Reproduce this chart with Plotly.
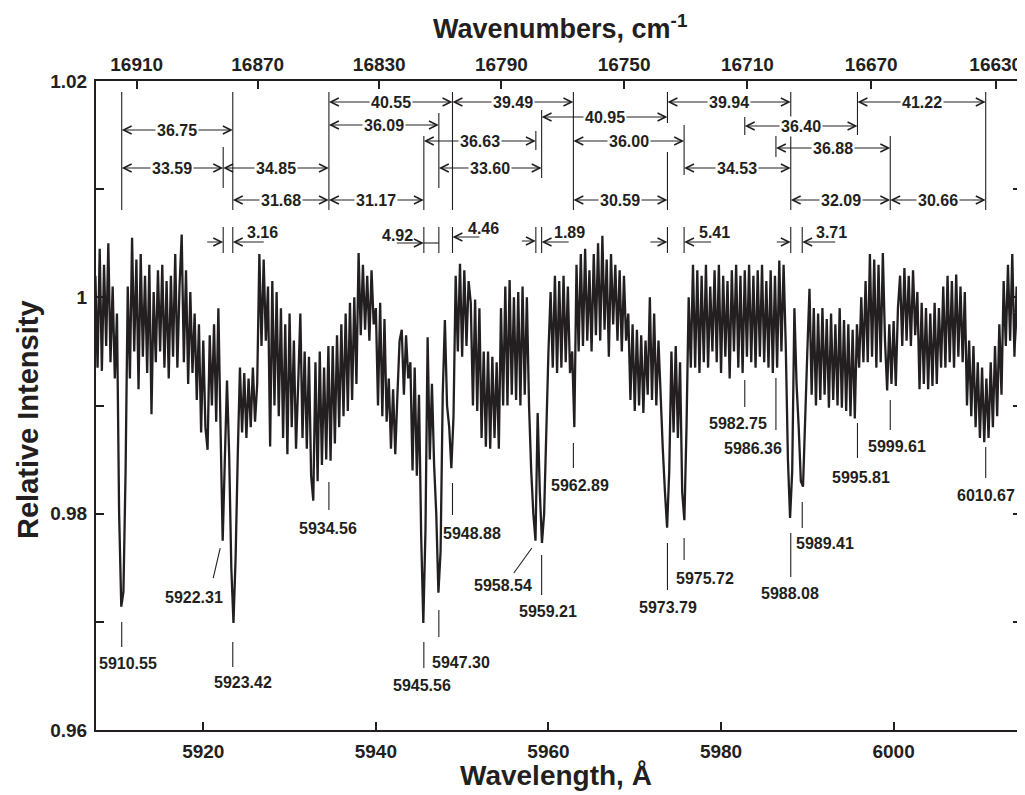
import plotly.graph_objects as go

# ---------------- data ----------------
wl_start = 5907.5          # Å, first sample
wl_step = 0.25             # Å, sampling step
intensity = [
    1.0020, 0.9935,
    1.0045, 0.9932, 1.0030, 0.9955,
    1.0050, 0.9940, 1.0010, 0.9925,
    0.9985, 0.9800, 0.9714, 0.9728,
    0.9840, 1.0010, 0.9925, 1.0055,
    0.9950, 1.0035, 0.9915, 1.0040,
    0.9945, 1.0020, 0.9930, 1.0030,
    0.9892, 1.0005, 0.9940, 1.0025,
    0.9950, 1.0030, 0.9935, 1.0015,
    0.9925, 1.0020, 0.9945, 1.0040,
    0.9935, 1.0010, 1.0058, 0.9940,
    1.0025, 0.9920, 1.0005, 0.9930,
    0.9985, 0.9905, 0.9975, 0.9875,
    0.9960, 0.9880, 0.9859, 0.9965,
    0.9900, 0.9975, 0.9885, 0.9990,
    0.9880, 0.9775, 0.9850, 0.9923,
    0.9855, 0.9750, 0.9699, 0.9760,
    0.9855, 0.9935, 0.9875, 0.9930,
    0.9870, 0.9925, 0.9880, 0.9935,
    0.9885, 0.9920, 1.0040, 0.9955,
    1.0035, 0.9960, 1.0010, 0.9862,
    1.0015, 0.9900, 1.0005, 0.9890,
    0.9990, 0.9870, 0.9975, 0.9855,
    0.9985, 0.9880, 0.9960, 0.9860,
    0.9920, 0.9985, 0.9870, 0.9950,
    0.9860, 0.9945, 0.9835, 0.9812,
    0.9940, 0.9830, 0.9950, 0.9845,
    0.9935, 0.9850, 0.9955, 0.9849,
    0.9955, 0.9865, 0.9965, 0.9880,
    0.9975, 0.9890, 0.9985, 0.9895,
    0.9995, 0.9905, 1.0000, 0.9920,
    1.0041, 0.9965, 1.0030, 0.9970,
    1.0020, 0.9960, 1.0025, 0.9975,
    0.9990, 0.9900, 0.9995, 0.9890,
    0.9980, 0.9885, 0.9925, 0.9860,
    0.9915, 0.9855, 0.9910, 0.9960,
    0.9970, 0.9910, 0.9965, 0.9925,
    0.9940, 0.9840, 0.9935, 0.9835,
    0.9910, 0.9780, 0.9699, 0.9785,
    0.9963, 0.9850, 0.9920, 0.9845,
    0.9800, 0.9727, 0.9765, 0.9910,
    0.9979, 0.9900, 0.9880, 0.9842,
    0.9890, 1.0020, 0.9950, 1.0031,
    0.9945, 1.0025, 0.9955, 1.0015,
    0.9995, 0.9900, 0.9998, 0.9895,
    0.9990, 0.9870, 0.9950, 0.9862,
    0.9950, 0.9860, 0.9945, 0.9870,
    0.9940, 0.9860, 0.9990, 0.9900,
    1.0010, 0.9900, 1.0016, 0.9910,
    1.0000, 0.9905, 1.0005, 0.9900,
    1.0010, 0.9910, 1.0000, 0.9900,
    0.9840, 0.9800, 0.9775, 0.9893,
    0.9820, 0.9773, 0.9800, 0.9886,
    0.9950, 1.0005, 0.9935, 1.0020,
    0.9930, 1.0015, 0.9935, 1.0020,
    0.9940, 1.0010, 0.9930, 0.9950,
    0.9880, 1.0030, 0.9950, 1.0040,
    0.9955, 1.0045, 0.9960, 1.0025,
    0.9950, 1.0040, 0.9965, 1.0050,
    0.9960, 1.0057, 0.9970, 1.0035,
    0.9945, 1.0040, 0.9975, 1.0030,
    0.9960, 1.0025, 0.9950, 1.0020,
    0.9960, 0.9985, 0.9905, 0.9975,
    0.9895, 0.9970, 0.9900, 0.9965,
    0.9893, 0.9960, 0.9910, 1.0000,
    0.9905, 0.9985, 0.9900, 0.9960,
    0.9900, 0.9860, 0.9820, 0.9787,
    0.9840, 0.9950, 0.9875, 0.9955,
    0.9870, 0.9940, 0.9820, 0.9794,
    0.9880, 1.0000, 0.9935, 1.0030,
    0.9935, 1.0025, 0.9930, 1.0020,
    0.9940, 1.0030, 0.9935, 1.0010,
    0.9950, 1.0025, 0.9940, 1.0030,
    0.9930, 1.0020, 0.9945, 1.0015,
    0.9925, 1.0025, 0.9950, 1.0030,
    0.9935, 1.0020, 0.9930, 1.0025,
    0.9945, 1.0030, 0.9940, 1.0020,
    0.9935, 1.0025, 0.9945, 1.0030,
    0.9940, 1.0015, 0.9935, 1.0025,
    0.9930, 1.0020, 0.9935, 1.0034,
    0.9950, 1.0030, 0.9955, 0.9850,
    0.9796, 0.9840, 0.9990, 0.9920,
    0.9880, 0.9830, 0.9825, 0.9900,
    0.9950, 1.0008, 0.9910, 0.9990,
    0.9900, 0.9985, 0.9905, 0.9990,
    0.9910, 0.9980, 0.9898, 0.9985,
    0.9905, 0.9975, 0.9900, 0.9990,
    0.9898, 0.9979, 0.9895, 0.9975,
    0.9890, 0.9970, 0.9888, 0.9975,
    0.9935, 1.0000, 0.9940, 1.0015,
    0.9940, 1.0040, 0.9945, 1.0035,
    0.9935, 1.0030, 0.9940, 1.0041,
    0.9960, 0.9914, 0.9975, 0.9920,
    0.9978, 0.9918, 0.9990, 1.0020,
    0.9955, 1.0027, 0.9960, 1.0020,
    0.9955, 1.0025, 0.9965, 1.0005,
    0.9915, 0.9995, 0.9920, 0.9990,
    0.9915, 0.9985, 0.9918, 0.9995,
    0.9920, 0.9990, 0.9935, 1.0010,
    0.9935, 1.0020, 0.9940, 1.0015,
    0.9935, 1.0021, 0.9945, 1.0010,
    0.9940, 1.0005, 0.9900, 0.9960,
    0.9890, 0.9955, 0.9880, 0.9940,
    0.9870, 0.9935, 0.9866, 0.9925,
    0.9870, 0.9940, 0.9880, 0.9955,
    0.9890, 0.9975, 0.9910, 1.0015,
    0.9955, 1.0030, 0.9960, 1.0040,
    0.9945, 1.0010, 0.9935, 0.9990,
]
wavelength = [wl_start + i * wl_step for i in range(len(intensity))]

peak_wavelengths = [5910.55, 5922.31, 5923.42, 5934.56, 5945.56, 5947.30, 5948.88,
                    5958.54, 5959.21, 5962.89, 5973.79, 5975.72, 5982.75, 5986.36,
                    5988.08, 5989.41, 5995.81, 5999.61, 6010.67]
peak_labels = ["5910.55", "5922.31", "5923.42", "5934.56", "5945.56", "5947.30", "5948.88",
               "5958.54", "5959.21", "5962.89", "5973.79", "5975.72", "5982.75", "5986.36",
               "5988.08", "5989.41", "5995.81", "5999.61", "6010.67"]

# wavenumber spacings (cm-1) between pairs of bands
spacing_from = [5934.56, 5948.88, 5973.79, 5995.81, 5959.21, 5934.56, 5982.75, 5910.55,
                5945.56, 5962.89, 5986.36, 5910.55, 5922.31, 5947.30, 5975.72,
                5923.42, 5934.56, 5962.89, 5988.08, 5999.61]
spacing_to = [5948.88, 5962.89, 5988.08, 6010.67, 5973.79, 5947.30, 5995.81, 5923.42,
              5958.54, 5975.72, 5999.61, 5922.31, 5934.56, 5959.21, 5988.08,
              5934.56, 5945.56, 5973.79, 5999.61, 6010.67]
spacing_values = ["40.55", "39.49", "39.94", "41.22", "40.95", "36.09", "36.40", "36.75",
                  "36.63", "36.00", "36.88", "33.59", "34.85", "33.60", "34.53",
                  "31.68", "31.17", "30.59", "32.09", "30.66"]

# close doublets
doublet_left = [5922.31, 5945.56, 5958.54, 5973.79, 5988.08]
doublet_right = [5923.42, 5947.30, 5959.21, 5975.72, 5989.41]
doublet_values = ["3.16", "4.92", "1.89", "5.41", "3.71"]
extra_doublet = (5947.30, 5948.88, "4.46")

wavelength_ticks = [5920, 5940, 5960, 5980, 6000]
wavenumber_ticks = [16910, 16870, 16830, 16790, 16750, 16710, 16670, 16630]
intensity_ticks = [0.96, 0.97, 0.98, 0.99, 1.00, 1.01, 1.02]
intensity_ticktext = ["0.96", " ", "0.98", " ", "1", " ", "1.02"]

AIR_INDEX = 1.000232   # air refractive index used for the wavenumber scale

# ---------------- layout helpers ----------------
PAGE_OFFSET = 8                 # default body margin of the html page
W, H = 1017, 787
ML, MR, MT, MB = 88, 4, 73, 65
X_RANGE = [5907.57, 6014.76]
Y_RANGE = [0.96, 1.02]
PLOT_W = W - ML - MR
PLOT_H = H - MT - MB
SCREEN_TOP = MT + PAGE_OFFSET
PX_PER_A = PLOT_W / (X_RANGE[1] - X_RANGE[0])
INK = "#231f20"
FONT = "Liberation Sans, Arial, Helvetica, sans-serif"


def ypx(py):
    """screen pixel row -> data y"""
    return Y_RANGE[1] - (py - SCREEN_TOP) * (Y_RANGE[1] - Y_RANGE[0]) / PLOT_H


def dA(dpx):
    """pixel offset -> Å offset"""
    return dpx / PX_PER_A


def px_paper_x(px):
    return (px - PAGE_OFFSET - ML) / PLOT_W


def px_paper_y(py):
    return (H - MB - (py - PAGE_OFFSET)) / PLOT_H


shapes = []
annotations = []


def vline(x, top, bot, x_bot=None):
    shapes.append(dict(type="line", xref="x", yref="y", x0=x, x1=x if x_bot is None else x_bot,
                       y0=ypx(top), y1=ypx(bot), line=dict(color=INK, width=1.1), layer="above"))


def hline(x0, x1, py):
    shapes.append(dict(type="line", xref="x", yref="y", x0=x0, x1=x1,
                       y0=ypx(py), y1=ypx(py), line=dict(color=INK, width=1.1), layer="above"))


def arrow(head_x, tail_x, py):
    annotations.append(dict(x=head_x, y=ypx(py), ax=tail_x, ay=ypx(py), xref="x", yref="y",
                            axref="x", ayref="y", text=" ", showarrow=True, arrowhead=5,
                            arrowsize=1.6, arrowwidth=1.0, arrowcolor=INK, standoff=0,
                            startstandoff=0))


def label(x, py, text, bg=None, size=16):
    d = dict(x=x, y=ypx(py), xref="x", yref="y", text=text, showarrow=False,
             font=dict(family=FONT, size=size, color=INK, weight="bold"),
             xanchor="center", yanchor="middle", borderpad=1)
    if bg:
        d["bgcolor"] = bg
    return d


# ---- lower callouts for each band (style/positions) ----
# (top_dx_px, top_py, bottom_dx_px, bottom_py, label_dx_px, label_py)
callout_style = [
    (0, 622, 0, 647, 6, 663),
    (-3, 548, -10, 578, -29, 597),
    (0, 642, 0, 667, 10, 682),
    (0, 482, 0, 510, -1, 528),
    (0, 642, 0, 668, -2, 685),
    (0, 610, 0, 637, 22, 662),
    (0, 483, 0, 515, 20, 533),
    (-4, 548, -22, 573, -33, 585),
    (0, 555, 0, 595, 6, 611),
    (0, 443, 0, 468, 7, 485),
    (0, 543, 0, 590, 1, 607),
    (0, 538, 0, 560, 21, 578),
    (0, 380, 0, 407, -7, 423),
    (0, 378, 0, 430, -23, 448),
    (0, 533, 0, 577, -1, 593),
    (0, 502, 0, 528, 23, 543),
    (0, 423, 0, 458, 4, 477),
    (0, 400, 0, 430, 7, 446),
    (0, 447, 0, 478, 0, 495),
]
lower_labels = []
for wl, lab, st in zip(peak_wavelengths, peak_labels, callout_style):
    tdx, tpy, bdx, bpy, ldx, lpy = st
    vline(wl + dA(tdx), tpy, bpy, x_bot=wl + dA(bdx))
    lower_labels.append(label(wl + dA(ldx), lpy, lab))

# ---- upper spacing diagram: vertical guide segments (screen px rows) ----
guide_rows = {
    5910.55: [(92, 210)], 5922.31: [(147, 188), (227, 253)], 5923.42: [(92, 210), (227, 253)],
    5934.56: [(92, 210)], 5945.56: [(136, 210), (227, 253)], 5947.30: [(113, 188), (227, 253)],
    5948.88: [(92, 210), (227, 253)], 5958.54: [(131, 150), (227, 253)],
    5959.21: [(110, 178), (227, 253)], 5962.89: [(92, 210)],
    5973.79: [(92, 123), (152, 210), (227, 253)], 5975.72: [(125, 175), (227, 253)],
    5982.75: [(117, 135)], 5986.36: [(136, 157)], 5988.08: [(92, 210), (227, 253)],
    5989.41: [(227, 253)], 5995.81: [(92, 135)], 5999.61: [(136, 210)], 6010.67: [(92, 210)],
}
for wl in peak_wavelengths:
    for top, bot in guide_rows[wl]:
        vline(wl, top, bot)

# rows of the double arrows (screen px)
spacing_rows = [102, 102, 102, 102, 117, 125, 126, 130, 141, 141, 148,
                168, 168, 168, 168, 200, 200, 200, 200, 200]
spacing_labels = []
for a, b, txt, py in zip(spacing_from, spacing_to, spacing_values, spacing_rows):
    c = (a + b) / 2
    arrow(a, c, py)
    arrow(b, c, py)
    spacing_labels.append(label(c, py, txt, bg="white"))

# doublet arrows (tail offsets in px)
doublet_style = [  # left tail dx, right tail dx, py left, py right, label dx (from right), label py
    (-19, 34, 242, 242, 30, 232),
    (-30, None, 243, 243, None, 235),
    (-17, 30, 241, 242, 28, 232),
    (-20, 30, 242, 242, 30, 232),
    (-17, 36, 242, 242, 29, 232),
]
doublet_labels = []
for l, r, txt, st in zip(doublet_left, doublet_right, doublet_values, doublet_style):
    ldx, rdx, pyl, pyr, labdx, labpy = st
    arrow(l, l + dA(ldx), pyl)
    if rdx is not None:
        arrow(r, r + dA(rdx), pyr)
        doublet_labels.append(label(r + dA(labdx), labpy, txt))
    else:
        hline(l, r, pyl)
        doublet_labels.append(label(l + dA(-26), labpy, txt))
ea, eb, etxt = extra_doublet
arrow(eb, eb + dA(30), 237)
doublet_labels.append(label(eb + dA(31), 228, etxt))

annotations += spacing_labels + doublet_labels + lower_labels

# titles
def title_font(size):
    return dict(family=FONT, size=size, color=INK, weight="bold")


annotations.append(dict(text="Wavelength, Å", xref="paper", yref="paper",
                        x=px_paper_x(556), y=px_paper_y(775), showarrow=False,
                        xanchor="center", yanchor="middle", font=title_font(28)))
annotations.append(dict(text="Wavenumbers, cm<sup>-1</sup>", xref="paper", yref="paper",
                        x=px_paper_x(560), y=px_paper_y(27), showarrow=False,
                        xanchor="center", yanchor="middle", font=title_font(27)))
annotations.append(dict(text="Relative Intensity", xref="paper", yref="paper",
                        x=px_paper_x(28), y=px_paper_y(420), showarrow=False, textangle=-90,
                        xanchor="center", yanchor="middle", font=title_font(29)))

# ---------------- figure ----------------
fig = go.Figure()
fig.add_trace(go.Scatter(x=wavelength, y=intensity, mode="lines",
                         line=dict(color=INK, width=2.3), showlegend=False,
                         hoverinfo="skip"))
# invisible trace to activate the top (wavenumber) axis
fig.add_trace(go.Scatter(x=[X_RANGE[0]], y=[Y_RANGE[0]], xaxis="x2", mode="markers",
                         marker=dict(opacity=0), showlegend=False, hoverinfo="skip"))

tick_font = dict(family=FONT, size=19, color=INK, weight="bold")
wn_tick_pos = [1e8 / (s * AIR_INDEX) for s in wavenumber_ticks]

fig.update_layout(
    width=W, height=H,
    margin=dict(l=ML, r=MR, t=MT, b=MB, autoexpand=False),
    paper_bgcolor="white", plot_bgcolor="white",
    showlegend=False,
    xaxis=dict(range=X_RANGE, tickvals=wavelength_ticks, ticks="inside", ticklen=8,
               tickwidth=1.5, tickcolor=INK, showline=True, linewidth=2, linecolor=INK,
               showgrid=False, zeroline=False, tickfont=tick_font, ticklabelstandoff=3,
               automargin=False),
    xaxis2=dict(range=X_RANGE, overlaying="x", side="top", tickvals=wn_tick_pos,
                ticktext=[str(s) for s in wavenumber_ticks], ticks="inside", ticklen=8,
                tickwidth=1.5, tickcolor=INK, showline=True, linewidth=2, linecolor=INK,
                showgrid=False, zeroline=False, tickfont=tick_font, ticklabelstandoff=0,
                automargin=False),
    yaxis=dict(range=Y_RANGE, tickvals=intensity_ticks, ticktext=intensity_ticktext,
               ticks="inside", ticklen=8, tickwidth=1.5, tickcolor=INK, showline=True,
               linewidth=2, linecolor=INK, mirror="ticks", showgrid=False, zeroline=False,
               tickfont=tick_font, ticklabelstandoff=3, automargin=False),
    shapes=shapes,
    annotations=annotations,
)

fig.write_html("out.html")
